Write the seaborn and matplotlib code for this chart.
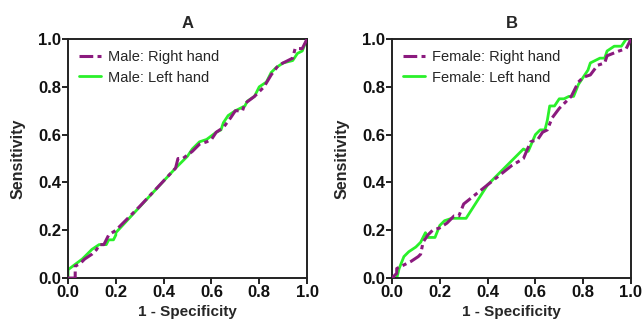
import numpy as np
import pandas as pd
import matplotlib
matplotlib.use("Agg")
import matplotlib.pyplot as plt
import seaborn as sns

sns.set_theme(style="ticks")
plt.rcParams['font.family'] = ['Liberation Sans', 'DejaVu Sans']

# ROC curve points (1 - specificity, sensitivity)
male_right_x = [0, 0.03, 0.03, 0.05, 0.07, 0.10, 0.12, 0.13, 0.15, 0.17, 0.20, 0.30, 0.45, 0.46, 0.48,
                0.52, 0.55, 0.58, 0.60, 0.62, 0.65, 0.68, 0.70, 0.73, 0.74, 0.78, 0.82, 0.85, 0.88,
                0.92, 0.94, 0.95, 0.98, 1.0]
male_right_y = [0, 0, 0.05, 0.06, 0.08, 0.10, 0.12, 0.14, 0.14, 0.18, 0.20, 0.30, 0.46, 0.50, 0.50,
                0.53, 0.56, 0.57, 0.58, 0.61, 0.63, 0.67, 0.70, 0.70, 0.73, 0.76, 0.80, 0.85, 0.89,
                0.91, 0.92, 0.96, 0.96, 1.0]
male_left_x = [0, 0, 0.02, 0.06, 0.08, 0.10, 0.13, 0.16, 0.17, 0.19, 0.20, 0.20, 0.45, 0.47, 0.50,
               0.52, 0.55, 0.58, 0.62, 0.64, 0.65, 0.67, 0.70, 0.74, 0.75, 0.78, 0.80, 0.83, 0.85,
               0.87, 0.90, 0.94, 0.96, 0.98, 1.0]
male_left_y = [0, 0.035, 0.05, 0.08, 0.10, 0.12, 0.14, 0.14, 0.16, 0.16, 0.18, 0.19, 0.46, 0.48, 0.51,
               0.54, 0.57, 0.58, 0.61, 0.62, 0.65, 0.68, 0.70, 0.72, 0.74, 0.76, 0.80, 0.82, 0.86,
               0.88, 0.90, 0.91, 0.94, 0.95, 1.0]

female_right_x = [0, 0.02, 0.02, 0.04, 0.08, 0.11, 0.12, 0.13, 0.15, 0.17, 0.20, 0.23, 0.26, 0.28,
                  0.30, 0.40, 0.50, 0.55, 0.58, 0.61, 0.63, 0.65, 0.67, 0.70, 0.72, 0.75, 0.78, 0.80,
                  0.83, 0.86, 0.89, 0.90, 0.95, 0.98, 1.0]
female_right_y = [0, 0.02, 0.04, 0.05, 0.07, 0.09, 0.10, 0.15, 0.18, 0.20, 0.21, 0.23, 0.26, 0.26,
                  0.31, 0.39, 0.47, 0.50, 0.57, 0.58, 0.61, 0.62, 0.67, 0.71, 0.73, 0.76, 0.82, 0.84,
                  0.85, 0.89, 0.90, 0.93, 0.95, 0.96, 1.0]
female_left_x = [0, 0.02, 0.03, 0.05, 0.07, 0.10, 0.12, 0.14, 0.15, 0.18, 0.20, 0.22, 0.25, 0.31,
                 0.40, 0.55, 0.57, 0.60, 0.62, 0.64, 0.65, 0.66, 0.68, 0.70, 0.72, 0.74, 0.76, 0.78,
                 0.80, 0.82, 0.83, 0.87, 0.89, 0.90, 0.93, 0.96, 0.98, 1.0]
female_left_y = [0, 0, 0.04, 0.09, 0.11, 0.13, 0.15, 0.19, 0.17, 0.17, 0.22, 0.24, 0.25, 0.25,
                 0.39, 0.54, 0.53, 0.60, 0.62, 0.62, 0.66, 0.72, 0.72, 0.75, 0.75, 0.76, 0.76, 0.81,
                 0.84, 0.87, 0.90, 0.92, 0.92, 0.95, 0.97, 0.97, 1.0, 1.0]

panels = [
    ("A", "Male", male_right_x, male_right_y, male_left_x, male_left_y),
    ("B", "Female", female_right_x, female_right_y, female_left_x, female_left_y),
]

purple = '#8B1A7E'
green = '#2AF02A'

fig = plt.figure(figsize=(6.43, 3.2), dpi=100)
axes = [fig.add_axes([0.1058, 0.131, 0.3717, 0.747]),
        fig.add_axes([0.6096, 0.131, 0.3717, 0.747])]

for ax, (title, sex, rx, ry, lx, ly) in zip(axes, panels):
    ax.plot(rx, ry, color=purple, lw=2.2, dashes=(4.5, 1.4, 1.4, 1.4),
            label=f"{sex}: Right hand", zorder=3)
    ax.plot(lx, ly, color=green, lw=2.0, label=f"{sex}: Left hand", zorder=2)
    ax.set_xlim(0, 1)
    ax.set_ylim(0, 1)
    ticks = [0, 0.2, 0.4, 0.6, 0.8, 1.0]
    ax.set_xticks(ticks)
    ax.set_yticks(ticks)
    ax.set_xticklabels([f"{t:.1f}" for t in ticks], fontweight='bold', fontsize=12)
    ax.set_yticklabels([f"{t:.1f}" for t in ticks], fontweight='bold', fontsize=12)
    ax.tick_params(direction='out', length=4, width=1.3, pad=1, colors='#111111')
    for s in ax.spines.values():
        s.set_linewidth(1.4)
        s.set_color('#222222')
        s.set_visible(True)
    ax.set_xlabel("1 - Specificity", fontweight='bold', fontsize=11, labelpad=3.5)
    ax.set_ylabel("Sensitivity", fontweight='bold', fontsize=11.5, labelpad=9)
    ax.set_title(title, fontweight='bold', fontsize=12, pad=8)
    ax.legend(loc='upper left', frameon=False, fontsize=10.5, handlelength=1.5,
              handletextpad=0.5, labelspacing=0.45, borderaxespad=0.35)

fig.savefig("out.png", dpi=100)
